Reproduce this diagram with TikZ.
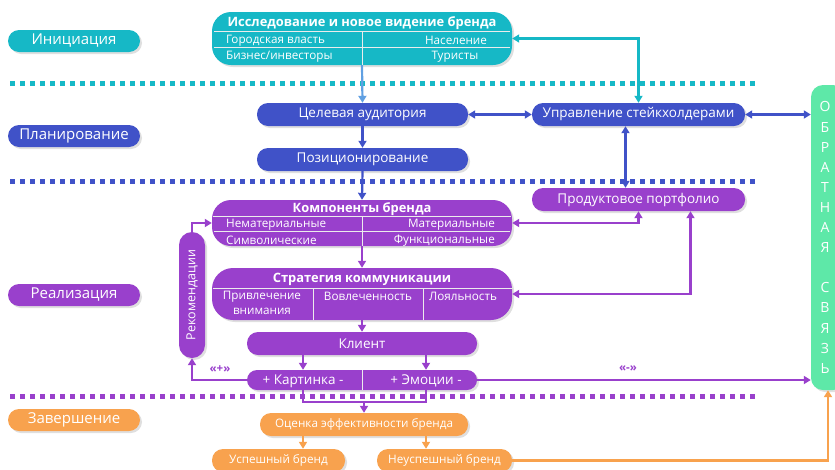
\documentclass[tikz,border=0pt]{standalone}
\usepackage{fontspec}
\setmainfont{Open Sans}
\usetikzlibrary{arrows.meta,shadows,calc}
\definecolor{cteal}{RGB}{22,184,198}
\definecolor{cblue}{RGB}{64,82,200}
\definecolor{cpurp}{RGB}{153,64,204}
\definecolor{corange}{RGB}{248,162,78}
\definecolor{cgreen}{RGB}{94,232,168}
\definecolor{clblue}{RGB}{96,160,226}
\begin{document}
\begin{tikzpicture}[x=1pt,y=-1pt,
  shd/.style={drop shadow={shadow xshift=2pt,shadow yshift=-2pt,opacity=0.25}},
  pill/.style={shd,rounded corners=11pt,text=white,inner sep=0pt,minimum height=23pt,font=\fontsize{13.5}{15}\selectfont},
  stage/.style={pill,minimum width=132pt,minimum height=22pt,font=\fontsize{15}{17}\selectfont},
  bigbox/.style={shd,rounded corners=19pt,inner sep=0pt,minimum width=300pt},
  ttl/.style={text=white,inner sep=0pt,yshift=-1.5pt,font=\bfseries\fontsize{12.9}{14}\selectfont},
  cell/.style={text=white,inner sep=0pt,yshift=-0.8pt,font=\fontsize{11.7}{13}\selectfont},
  sep/.style={white!85!gray,line width=0.7pt},
  arr/.style={line width=2.2pt,-{Triangle[length=7pt,width=8pt]}},
  darr/.style={line width=2.2pt,{Triangle[length=7pt,width=8pt]}-{Triangle[length=7pt,width=8pt]}},
  dots/.style={line width=5pt,dash pattern=on 5pt off 5pt},
  sign/.style={text=cpurp,inner sep=0pt,font=\bfseries\fontsize{11.5}{12}\selectfont}
]
\useasboundingbox (0,0) rectangle (835,469);

% phase separators
\draw[dots,cteal] (10,83) -- (755,83);
\draw[dots,cblue] (10,181) -- (755,181);
\draw[dots,cpurp] (10,396) -- (755,396);

% stage labels
\node[stage,fill=cteal] (s1) at (74,41) {Инициация};
\node[stage,fill=cblue] (s2) at (74,136) {Планирование};
\node[stage,fill=cpurp] (s3) at (74,295) {Реализация};
\node[stage,fill=corange] (s4) at (74,420) {Завершение};

% research
\node[bigbox,fill=cteal,minimum height=53pt] (res) at (362,38.5) {};
\draw[sep] (214,31) -- (510,31);
\draw[sep] (214,47) -- (510,47);
\draw[sep] (362,31) -- (362,65);
\node[ttl] (rest) at (362,22) {Исследование и новое видение бренда};
\node[cell,anchor=west] (resa) at (226,40) {Городская власть};
\node[cell] (resb) at (456,40) {Население};
\node[cell,anchor=west] (resc) at (226,56) {Бизнес/инвесторы};
\node[cell] (resd) at (455,56) {Туристы};

% planning
\node[pill,fill=cblue,minimum width=211pt] (cel) at (362.5,114.5) {Целевая аудитория};
\node[pill,fill=cblue,minimum width=211pt] (pos) at (362.5,159.5) {Позиционирование};
\node[pill,fill=cblue,minimum width=213pt] (upr) at (638.5,114.5) {Управление стейкхолдерами};
\node[pill,fill=cpurp,minimum width=213pt] (prod) at (638.5,199.5) {Продуктовое портфолио};

% brand components
\node[bigbox,fill=cpurp,minimum height=46pt] (komp) at (362,223) {};
\draw[sep] (213,216) -- (511,216);
\draw[sep] (214,231) -- (510,231);
\draw[sep] (362,216) -- (362,246);
\node[ttl] (kompt) at (362,208) {Компоненты бренда};
\node[cell,anchor=west] (ka) at (226,224) {Нематериальные};
\node[cell,anchor=east] (kb) at (495,224) {Материальные};
\node[cell,anchor=west] (kc) at (226,240) {Символические};
\node[cell,anchor=east] (kd) at (495,240) {Функциональные};

% communication strategy
\node[bigbox,fill=cpurp,minimum height=52pt,rounded corners=21pt] (strat) at (362,294) {};
\draw[sep] (212.5,288) -- (511.5,288);
\draw[sep] (313,288) -- (313,320);
\draw[sep] (423,288) -- (423,320);
\node[ttl] (stratt) at (362,278) {Стратегия коммуникации};
\node[cell] (sa) at (262,296) {Привлечение};
\node[cell] (sb) at (262,311) {внимания};
\node[cell] (sc) at (368,296) {Вовлеченность};
\node[cell] (sd) at (463,296) {Лояльность};

% client
\node[pill,fill=cpurp,minimum width=230pt] (kl) at (362,343.5) {Клиент};
\node[pill,fill=cpurp,minimum width=230pt,minimum height=20pt,rounded corners=10pt] (ke) at (362,380) {};
\draw[sep] (362,370) -- (362,390);
\node[cell,font=\fontsize{13.5}{15}\selectfont] (kart) at (303,380) {+ Картинка -};
\node[cell,font=\fontsize{13.5}{15}\selectfont] (emo) at (426,380) {+ Эмоции -};

% recommendations
\node[shd,fill=cpurp,rounded corners=13pt,minimum width=126pt,minimum height=26pt,inner sep=0pt,
      text=white,font=\fontsize{12.5}{14}\selectfont,rotate=90] (rek) at (192,295) {Рекомендации};

% completion
\node[pill,fill=corange,minimum width=208pt,font=\fontsize{11.7}{13}\selectfont] (oc) at (364,424.5) {Оценка эффективности бренда};
\node[pill,fill=corange,minimum width=133pt,font=\fontsize{11.7}{13}\selectfont] (usp) at (278.5,460.5) {Успешный бренд};
\node[pill,fill=corange,minimum width=135pt,font=\fontsize{11.7}{13}\selectfont] (neus) at (444.5,460.5) {Неуспешный бренд};

% feedback
\node[shd,fill=cgreen,rounded corners=12pt,minimum width=34pt,minimum height=305pt,inner sep=0pt] (fb) at (828,237.5) {};
\node[text=white,align=center,inner sep=0pt,font=\fontsize{14}{20.1}\selectfont] (fbt) at (825,237.5)
  {О\\Б\\Р\\А\\Т\\Н\\А\\Я\\\mbox{}\\С\\В\\Я\\З\\Ь};

% connectors
\draw[arr,clblue] (res.south) -- (cel.north);
\draw[arr,cblue] (cel.south) -- (pos.north);
\draw[arr,cblue] (pos.south) -- (komp.north);
\draw[darr,cteal] (res.east) -| (upr.north);
\draw[darr,cblue] (cel.east) -- (upr.west);
\draw[darr,cblue] (upr.east) -- (upr.east -| fb.west);
\draw[darr,cblue] ($(upr.south)+(-13,0)$) -- ($(prod.north)+(-13,0)$);
\draw[darr,cpurp] (komp.east) -| (prod.south);
\draw[darr,cpurp] (strat.east) -| ($(prod.south)+(52,0)$);
\draw[arr,cpurp] (komp.south) -- (strat.north);
\draw[arr,cpurp] (strat.south) -- (kl.north);
\draw[arr,cpurp] (kart |- kl.south) -- (kart |- ke.north);
\draw[arr,cpurp] (emo |- kl.south) -- (emo |- ke.north);
\draw[arr,cpurp] (ke.west) -| (rek);
\draw[arr,cpurp] (rek) |- (komp.west);
\draw[arr,cpurp] (ke.east) -- (ke.east -| fb.west);
\node[sign] (plus) at (220,369) {«+»};
\node[sign] (minus) at (628,369) {«-»};
\coordinate (uc) at (364,402);
\draw[cpurp,line width=1.6pt] (kart |- ke.south) |- (uc) -| (emo |- ke.south);
\draw[arr,cpurp] (uc) -- (oc.north);
\draw[arr,corange] (kart |- oc.south) -- (kart |- usp.north);
\draw[arr,corange] (emo |- oc.south) -- (emo |- neus.north);
\draw[arr,corange] (neus.east) -| (fb.south);
\end{tikzpicture}
\end{document}
